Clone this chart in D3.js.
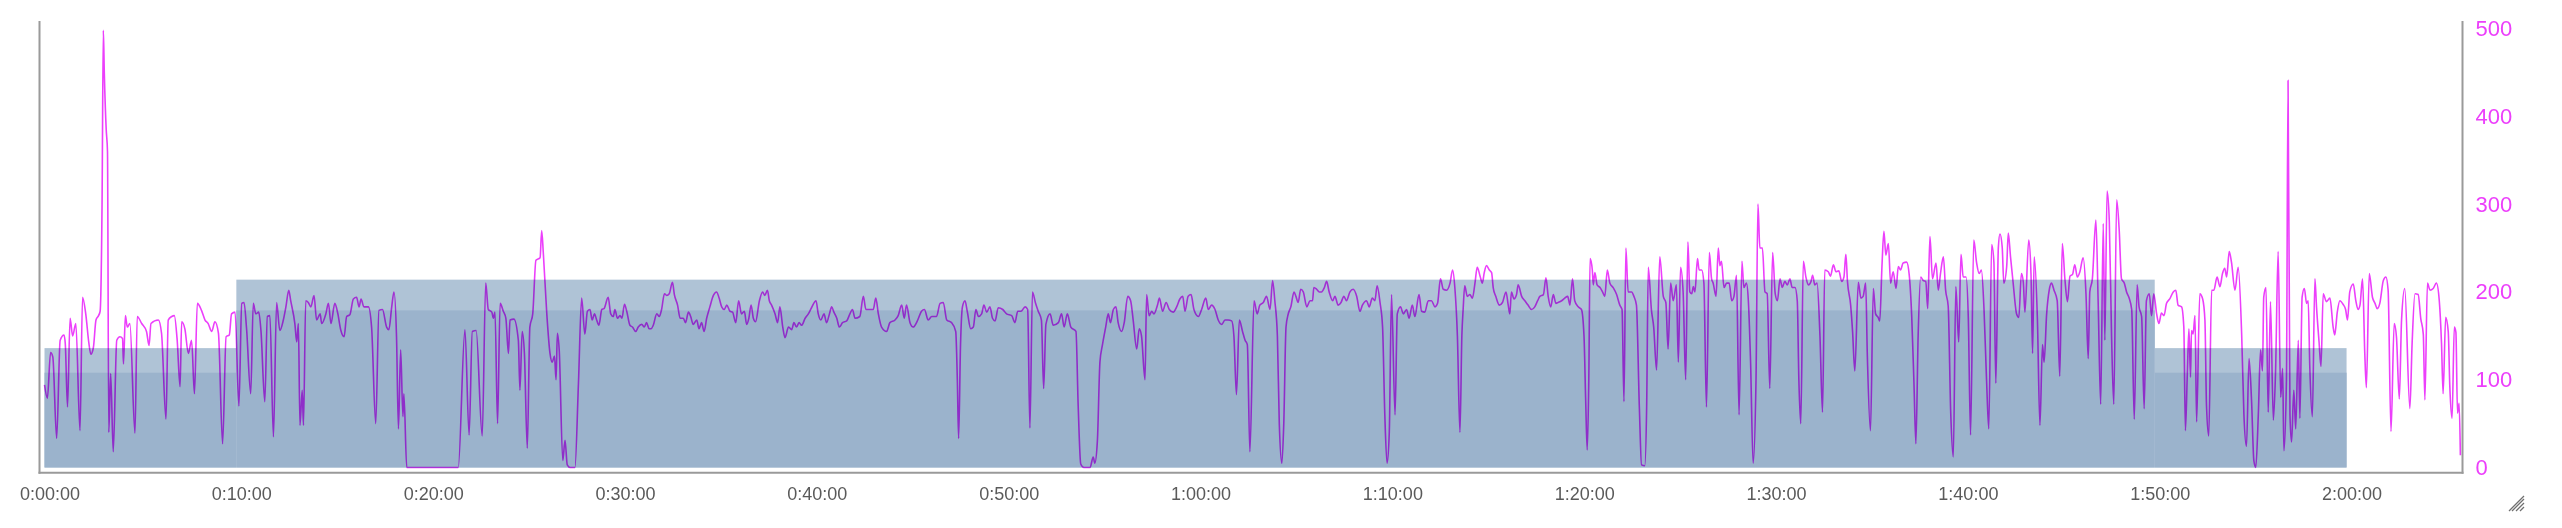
<!DOCTYPE html>
<html>
<head>
<meta charset="utf-8">
<script src="https://cdn.jsdelivr.net/npm/d3@7"></script>
<style>
  body { margin: 0; background: #fff; }
  svg { display: block; font-family: "Liberation Sans", Arial, Helvetica, sans-serif; }
</style>
</head>
<body>
<div id="chart"></div>
<script>
const width = 2562;
const height = 528;

// workout intervals (minutes) and target power band (W)
const intervalStartMin = [0, 10, 110];
const intervalEndMin = [10, 110, 120];
const intervalLow = [108, 179, 108];
const intervalHigh = [136, 214, 136];

// tick values
const xTickMinutes = [0, 10, 20, 30, 40, 50, 60, 70, 80, 90, 100, 110, 120];
const yTicks = [0, 100, 200, 300, 400, 500];

// recorded power: [seconds, watts]
const powerSamples = [
	[0,94],[9,79],[19,131],[26,126],[38,33],[49,145],[61,151],[65,141],[72,69],[80,170],[88,150],[98,164],
	[111,42],[119,194],[129,175],[139,141],[145,129],[153,137],[161,168],[169,173],[174,178],[180,300],
	[184,498],[187,450],[193,385],[197,360],[201,40],[207,107],[215,18],[226,145],[236,149],[244,147],
	[247,118],[253,173],[259,160],[267,164],[283,39],[290,172],[304,164],[319,155],[327,139],[333,164],
	[356,168],[366,153],[380,55],[387,168],[398,172],[406,173],[415,145],[424,92],[429,166],[439,158],
	[450,130],[460,145],[469,84],[478,187],[491,179],[502,168],[512,164],[523,155],[533,166],[544,153],
	[557,27],[568,149],[578,151],[585,175],[596,177],[608,70],[617,187],[624,188],[632,158],[645,84],
	[653,187],[661,175],[670,177],[677,156],[689,75],[697,172],[705,173],[716,35],[726,188],[736,156],
	[747,168],[755,183],[764,202],[770,190],[783,164],[789,143],[794,164],[799,48],[806,88],[810,48],
	[817,190],[825,188],[833,183],[843,196],[851,168],[862,175],[867,164],[880,175],[888,187],[896,164],
	[908,187],[917,176],[927,156],[937,149],[945,172],[955,174],[966,192],[976,194],[984,183],[990,192],
	[999,183],[1013,183],[1023,160],[1036,50],[1046,179],[1057,180],[1070,160],[1077,157],[1086,183],
	[1093,200],[1101,149],[1107,44],[1114,134],[1121,58],[1124,84],[1133,0],[1294,0],
	[1315,157],[1328,37],[1338,155],[1350,156],[1369,36],[1380,210],[1388,180],[1399,177],[1404,170],
	[1409,177],[1417,50],[1425,187],[1435,178],[1443,170],[1451,130],[1456,168],[1468,169],[1482,145],
	[1487,88],[1494,155],[1501,130],[1510,22],[1518,160],[1527,175],[1537,236],[1550,239],[1555,270],
	[1560,245],[1571,175],[1581,130],[1588,120],[1595,127],[1600,100],[1604,153],[1610,133],[1621,8],
	[1628,31],[1635,3],[1644,0],[1659,0],[1670,96],[1680,193],[1690,152],[1698,178],[1706,180],[1713,168],
	[1720,175],[1727,168],[1734,162],[1743,180],[1750,181],[1763,194],[1771,175],[1779,172],[1784,180],
	[1792,170],[1800,173],[1806,170],[1814,186],[1821,178],[1831,162],[1839,160],[1849,155],[1857,160],
	[1868,163],[1876,160],[1883,165],[1891,158],[1897,158],[1904,162],[1915,175],[1923,172],[1930,180],
	[1939,198],[1946,196],[1954,198],[1964,211],[1970,197],[1980,185],[1988,170],[1998,170],[2005,165],
	[2014,177],[2021,172],[2029,163],[2040,168],[2047,158],[2055,165],[2063,155],[2071,170],[2081,183],
	[2092,196],[2102,200],[2110,193],[2118,183],[2126,180],[2134,185],[2144,178],[2152,177],[2162,165],
	[2171,190],[2180,175],[2189,178],[2196,163],[2203,170],[2210,185],[2217,170],[2224,166],[2236,190],
	[2246,200],[2253,196],[2261,202],[2267,190],[2274,185],[2285,175],[2293,165],[2300,183],[2309,160],
	[2316,148],[2327,160],[2337,157],[2344,165],[2352,160],[2360,165],[2368,162],[2379,170],[2389,175],
	[2399,182],[2413,190],[2420,175],[2428,168],[2438,175],[2446,165],[2455,175],[2462,183],[2469,177],
	[2478,170],[2486,160],[2496,165],[2509,167],[2519,175],[2527,180],[2535,170],[2550,172],
	[2561,195],[2569,180],[2580,180],[2592,180],[2600,193],[2608,175],[2618,160],[2634,155],[2644,165],
	[2660,168],[2670,173],[2681,185],[2689,170],[2696,185],[2707,165],[2717,160],[2730,167],[2743,178],
	[2752,180],[2764,168],[2775,172],[2790,172],[2801,187],[2811,188],[2822,168],[2837,165],[2850,155],
	[2855,100],[2859,33],[2865,140],[2871,183],[2879,190],[2886,178],[2897,158],[2905,160],[2913,180],
	[2921,172],[2931,175],[2938,185],[2947,177],[2957,183],[2965,170],[2973,167],[2983,182],[2997,180],
	[3009,175],[3025,173],[3035,165],[3044,178],[3054,178],[3067,183],[3075,180],[3082,45],[3090,200],
	[3099,188],[3108,178],[3118,168],[3125,90],[3132,163],[3145,175],[3155,162],[3171,165],[3181,175],
	[3189,160],[3199,175],[3210,160],[3226,155],[3233,70],[3241,4],[3251,0],[3270,0],[3280,12],[3285,5],
	[3293,30],[3301,120],[3309,140],[3319,160],[3327,175],[3334,165],[3343,180],[3351,183],[3358,165],
	[3369,155],[3377,165],[3388,195],[3397,190],[3405,168],[3416,135],[3424,158],[3431,150],[3442,100],
	[3447,197],[3455,173],[3463,178],[3470,175],[3481,185],[3487,193],[3497,178],[3508,188],[3518,180],
	[3530,177],[3541,183],[3551,192],[3560,195],[3567,178],[3577,195],[3586,197],[3595,180],[3609,172],
	[3619,180],[3632,193],[3640,180],[3650,185],[3661,180],[3671,168],[3682,163],[3692,168],[3702,168],
	[3713,167],[3720,150],[3728,83],[3737,168],[3747,155],[3755,145],[3762,140],[3770,18],[3783,190],
	[3793,175],[3801,185],[3812,188],[3822,195],[3833,180],
	[3841,213],[3848,190],[3856,150],[3862,50],[3870,5],[3876,50],[3883,160],[3890,175],[3898,183],
	[3908,200],[3914,195],[3921,188],[3929,203],[3937,200],[3948,183],[3958,190],[3966,190],[3970,205],
	[3979,203],[3987,200],[3994,200],[4003,205],[4010,212],[4018,200],[4029,190],[4036,195],[4046,185],
	[4055,188],[4064,195],[4072,190],[4083,200],[4093,203],[4104,195],[4114,178],[4122,185],[4135,190],
	[4143,183],[4153,193],[4161,190],[4168,207],[4177,188],[4185,160],[4192,60],[4199,5],[4206,40],
	[4213,197],[4224,60],[4231,175],[4241,183],[4250,175],[4260,180],[4268,170],[4278,185],[4286,172],
	[4299,197],[4307,178],[4317,177],[4328,190],[4338,190],[4349,183],[4357,187],[4366,215],[4375,203],
	[4385,202],[4396,210],[4404,225],[4411,205],[4419,150],[4427,40],[4433,150],[4437,180],[4442,207],
	[4450,195],[4458,197],[4466,193],[4474,210],[4481,228],[4490,218],[4497,210],[4503,222],[4510,230],
	[4519,225],[4526,222],[4531,205],[4539,195],[4550,185],[4560,188],[4571,200],[4578,185],[4583,175],
	[4588,200],[4596,192],[4604,197],[4609,208],[4620,195],[4630,190],[4640,185],[4651,180],[4661,183],
	[4670,190],[4677,195],[4688,197],[4696,216],[4703,195],[4711,183],[4719,197],[4727,187],[4734,188],
	[4745,190],[4755,193],[4764,195],[4771,185],[4779,215],[4786,190],[4797,183],[4807,180],[4815,150],
	[4820,80],[4825,20],[4830,100],[4834,238],[4841,225],[4844,208],[4849,222],[4856,208],[4865,205],
	[4873,200],[4880,195],[4888,225],[4896,210],[4906,205],[4917,197],[4927,185],[4934,180],[4940,75],
	[4946,250],[4953,200],[4964,200],[4971,195],[4979,185],[4988,70],[4995,3],[5005,2],[5011,70],
	[5016,228],[5026,179],[5033,160],[5042,111],[5052,240],[5063,195],[5071,188],[5078,135],[5086,210],
	[5094,190],[5104,208],[5110,120],
	[5117,228],[5125,200],[5133,100],[5140,257],[5146,200],[5152,198],[5157,206],[5162,200],[5170,238],
	[5175,225],[5183,225],[5190,210],[5198,69],[5207,245],[5214,215],[5219,210],[5228,195],[5235,250],
	[5240,230],[5245,235],[5253,205],[5261,210],[5269,210],[5277,190],[5284,195],[5292,219],[5300,60],
	[5309,235],[5315,205],[5323,210],[5329,190],[5336,120],[5344,5],[5353,100],[5359,300],[5365,250],
	[5373,250],[5381,200],[5388,198],[5396,90],[5405,245],[5413,198],[5420,190],[5428,215],[5435,205],
	[5443,212],[5451,208],[5459,215],[5466,205],[5475,205],[5482,190],[5487,100],[5493,50],[5501,235],
	[5509,217],[5517,208],[5525,212],[5530,219],[5537,208],[5544,210],[5553,150],[5561,63],[5568,225],
	[5579,223],[5586,218],[5595,231],[5603,223],[5612,224],[5621,212],[5628,217],[5634,243],[5639,212],
	[5649,185],[5655,155],[5662,110],[5673,211],[5681,193],[5688,195],[5696,210],[5701,130],[5711,42],
	[5720,204],[5727,175],[5735,171],[5740,167],[5747,230],[5753,269],[5759,242],[5767,255],[5774,210],
	[5782,223],[5791,204],[5798,229],[5805,225],[5813,233],[5824,234],[5832,220],[5840,172],[5847,96],
	[5853,27],[5860,149],[5868,217],[5876,213],[5884,212],[5890,181],[5897,263],[5905,215],[5916,233],
	[5923,202],[5930,221],[5939,240],[5946,202],[5954,184],[5962,62],[5970,12],[5978,206],[5987,143],
	[5994,243],[6001,217],[6010,217],[6017,170],[6024,37],[6034,259],[6043,233],[6051,221],[6058,225],
	[6066,181],[6074,100],[6081,44],[6090,254],[6097,234],[6103,96],[6111,251],[6116,266],[6123,251],
	[6128,210],[6137,229],[6142,267],[6149,240],[6157,211],[6168,175],[6175,171],[6183,221],[6189,211],
	[6194,177],[6206,259],[6213,221],[6218,130],[6223,240],[6233,170],[6241,48],[6249,140],[6254,120],
	[6262,175],[6270,202],[6277,210],[6285,202],[6295,190],[6303,104],[6311,255],[6319,215],[6327,189],
	[6335,218],[6343,220],[6350,231],[6358,217],[6366,223],[6376,239],[6385,198],[6392,124],
	[6397,200],[6405,215],[6416,282],[6423,190],[6431,72],[6439,278],[6444,145],[6451,315],[6458,280],
	[6465,150],[6472,72],[6481,305],[6489,270],[6496,215],[6505,210],[6512,200],[6520,193],[6528,180],
	[6536,55],[6545,208],[6551,183],[6559,172],[6567,67],[6574,190],[6583,198],[6590,173],[6597,198],
	[6606,175],[6613,164],[6621,176],[6629,173],[6637,187],[6647,192],[6658,200],[6666,202],[6673,185],
	[6684,183],[6691,160],[6696,42],[6702,107],[6707,158],[6712,103],[6715,156],[6720,152],[6726,173],
	[6731,52],[6741,198],[6750,192],[6757,168],[6762,70],[6769,36],[6778,202],[6785,202],[6795,217],
	[6804,206],[6812,221],[6819,227],[6825,217],[6833,246],[6840,234],[6851,202],[6861,228],[6872,151],
	[6879,60],[6887,24],[6895,124],[6903,75],[6910,8],[6916,0],[6924,60],[6931,134],[6937,110],[6941,194],
	[6948,205],[6955,63],[6962,189],[6971,54],[6978,110],[6986,246],[6994,80],[7000,113],[7004,19],
	[7012,100],[7017,441],[7023,60],[7028,29],[7035,88],[7041,44],[7049,145],[7054,56],[7061,194],
	[7068,204],[7075,187],[7080,190],[7085,115],[7093,58],[7101,215],[7106,183],[7114,143],[7120,115],
	[7127,198],[7137,189],[7148,193],[7158,160],[7163,151],[7171,177],[7179,190],[7189,186],[7197,180],
	[7203,168],[7210,200],[7221,209],[7229,190],[7236,180],[7242,185],[7250,215],[7257,130],[7262,91],
	[7271,221],[7281,194],[7289,187],[7296,181],[7304,187],[7315,213],[7323,217],[7330,202],[7339,41],
	[7349,164],[7356,149],[7365,78],[7372,168],[7382,204],[7398,67],[7405,141],[7414,198],[7424,197],
	[7432,170],[7440,152],[7445,77],[7453,210],[7461,202],[7471,204],[7481,210],[7490,190],[7497,141],
	[7502,84],[7510,171],[7518,155],[7523,92],[7530,56],[7537,160],[7542,154],[7547,62],[7552,73],
	[7556,14]
];

const lineColor = "#ec3ffb";
const axisColor = "#9a9a9a";

const svg = d3.select("#chart").append("svg")
	.attr("width", width)
	.attr("height", height);

const x = d3.scaleLinear().domain([0, 7562]).range([44.5, 2462.3]);
const y = d3.scaleLinear().domain([0, 500]).range([467.5, 28.6]);

// target bands: full band lighter, below-low part darker
const intervals = intervalStartMin.map((s, i) => ({
	start: s * 60, end: intervalEndMin[i] * 60, low: intervalLow[i], high: intervalHigh[i]
}));

svg.append("g").selectAll("rect")
	.data(intervals)
	.join("rect")
	.attr("x", d => x(d.start))
	.attr("width", d => x(d.end) - x(d.start))
	.attr("y", d => y(d.high))
	.attr("height", d => y(0) - y(d.high))
	.attr("fill", "#afc3d6");

svg.append("g").selectAll("rect")
	.data(intervals)
	.join("rect")
	.attr("x", d => x(d.start))
	.attr("width", d => x(d.end) - x(d.start))
	.attr("y", d => y(d.low))
	.attr("height", d => y(0) - y(d.low))
	.attr("fill", "#9bb3cc");

// power line
const line = d3.line()
	.x(d => x(d[0]))
	.y(d => y(d[1]))
	.curve(d3.curveMonotoneX);

svg.append("path")
	.datum(powerSamples)
	.attr("d", line)
	.attr("fill", "none")
	.attr("stroke", lineColor)
	.attr("stroke-width", 1.6)
	.attr("stroke-linejoin", "round")
	.style("mix-blend-mode", "multiply");

// frame
const frame = svg.append("g").attr("stroke", axisColor).attr("stroke-width", 2);
frame.append("line").attr("x1", 39.5).attr("x2", 39.5).attr("y1", 21).attr("y2", 473.7);
frame.append("line").attr("x1", 2462.5).attr("x2", 2462.5).attr("y1", 21).attr("y2", 473.7);
frame.append("line").attr("x1", 38.5).attr("x2", 2463.5).attr("y1", 472.7).attr("y2", 472.7);

// x axis labels
const fmtTime = s => {
	const h = Math.floor(s / 3600);
	const m = Math.floor((s % 3600) / 60);
	const sec = s % 60;
	return `${h}:${String(m).padStart(2, "0")}:${String(sec).padStart(2, "0")}`;
};

const xAxis = svg.append("g")
	.attr("transform", "translate(5,472.7)")
	.call(d3.axisBottom(x)
		.tickValues(xTickMinutes.map(m => m * 60))
		.tickFormat(fmtTime)
		.tickSize(0)
		.tickPadding(15));
xAxis.select(".domain").remove();
xAxis.selectAll("text")
	.attr("fill", "#5a5a5a")
	.style("font-size", "18px")
	.style("font-family", "'Liberation Sans', Arial, sans-serif");

// right y axis labels
const yAxis = svg.append("g")
	.attr("transform", "translate(2462.5,0)")
	.call(d3.axisRight(y)
		.tickValues(yTicks)
		.tickSize(0)
		.tickPadding(13));
yAxis.select(".domain").remove();
yAxis.selectAll("text")
	.attr("fill", lineColor)
	.style("font-size", "22px")
	.style("font-family", "'Liberation Sans', Arial, sans-serif");

// resize grip in the corner
const grip = svg.append("g").attr("stroke", "#6f6f6f").attr("stroke-width", 1.3);
[4, 8, 12, 15].forEach(k => {
	grip.append("line")
		.attr("x1", 2524 - k).attr("y1", 511)
		.attr("x2", 2524).attr("y2", 511 - k);
});
</script>
</body>
</html>
